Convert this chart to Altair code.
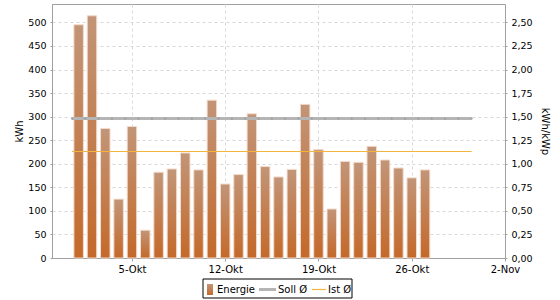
import altair as alt
import pandas as pd

# ---------------- data ----------------
dates = [f"2023-10-{d:02d}" for d in range(1, 28)]
energie = [495, 514, 275, 125, 279, 59, 182, 189, 223, 187, 335, 157, 177, 306,
           194, 172, 188, 326, 230, 104, 205, 203, 237, 208, 191, 170, 187]
soll_avg = 1.48      # kWh/kWp
ist_avg = 1.13       # kWh/kWp
avg_span = ["2023-09-30T12:00:00Z", "2023-10-30T12:00:00Z"]
x_ticks = ["2023-10-05", "2023-10-12", "2023-10-19", "2023-10-26", "2023-11-02"]
x_domain = ["2023-09-29", "2023-11-02"]
month_names = ["Jan", "Feb", "Mär", "Apr", "Mai", "Jun", "Jul", "Aug", "Sep", "Okt", "Nov", "Dez"]
y_left_ticks = [0, 50, 100, 150, 200, 250, 300, 350, 400, 450, 500]
y_right_ticks = [0, 0.25, 0.5, 0.75, 1.0, 1.25, 1.5, 1.75, 2.0, 2.25, 2.5]
y_left_max = 539
y_right_max = 2.695
legend_labels = ["Energie", "Soll Ø", "Ist Ø"]

FONT = "DejaVu Sans"
GRID = "#d9d9d9"
AXC = "#a0a0a0"
SOLL_C = "#b5b5b5"
IST_C = "#f2b640"


def ms(s):
    return int(pd.Timestamp(s, tz="UTC").timestamp() * 1000)


bars_df = pd.DataFrame({"t": dates, "v": energie})
soll_df = pd.DataFrame({"t": avg_span, "v": [soll_avg, soll_avg]})
ist_df = pd.DataFrame({"t": avg_span, "v": [ist_avg, ist_avg]})
dot_days = [d.strftime("%Y-%m-%dT%H:%M:%SZ") for d in
            pd.date_range(avg_span[0].rstrip("Z"), avg_span[1].rstrip("Z"), freq="D")]
dots_df = pd.DataFrame({"t": dot_days, "v": [soll_avg] * len(dot_days)})

month_js = "[" + ",".join(f"'{m}'" for m in month_names) + "]"

x_axis = alt.Axis(
    values=[ms(s) for s in x_ticks],
    labelExpr="utcdate(datum.value) + '-' + " + month_js + "[utcmonth(datum.value)]",
    grid=True, gridDash=[3, 3], gridColor=GRID,
    domainColor=AXC, tickColor=AXC, tickSize=3,
    labelFontSize=10, labelColor="#000", labelPadding=3, title=None,
    labelFlush=False, labelOverlap=False, labelBound=False,
)
x_enc = alt.X("t:T", scale=alt.Scale(type="utc", domain=[ms(s) for s in x_domain], padding=0),
              axis=x_axis)

grad = alt.Gradient(
    gradient="linear",
    stops=[alt.GradientStop(color="#c29578", offset=0),
           alt.GradientStop(color="#c4692a", offset=1)],
    x1=0, x2=0, y1=0, y2=1,
)

bars = alt.Chart(bars_df).mark_bar(
    width=9.5, color=grad, stroke="#f2dccd", strokeWidth=1
).encode(
    x=x_enc,
    y=alt.Y("v:Q", scale=alt.Scale(domain=[0, y_left_max], nice=False),
            axis=alt.Axis(values=y_left_ticks, grid=True, gridDash=[3, 3], gridColor=GRID,
                          domainColor=AXC, tickColor=AXC, tickSize=2, labelPadding=4,
                          labelFontSize=9.5, labelColor="#000",
                          title="kWh", titleFontSize=10, titleFontWeight="normal",
                          titleAngle=270, titleX=-33, titleY=127,
                          titleAlign="center", titleBaseline="middle")),
)

y_right = alt.Y("v:Q", scale=alt.Scale(domain=[0, y_right_max], nice=False),
                axis=alt.Axis(orient="right", values=y_right_ticks, grid=False,
                              labelExpr="replace(format(datum.value, '.2f'), '.', ',')",
                              domainColor=AXC, tickColor=AXC, tickSize=2, labelPadding=4,
                              labelFontSize=9.5, labelColor="#000",
                              title="kWh/kWp", titleFontSize=10, titleFontWeight="normal",
                              titleAngle=90, titleX=39, titleY=127,
                              titleAlign="center", titleBaseline="middle"))

soll_line = alt.Chart(soll_df).mark_line(color=SOLL_C, strokeWidth=3).encode(x=x_enc, y=y_right)
soll_dots = alt.Chart(dots_df).mark_point(
    shape="square", size=3, filled=True, color="#9a9a9a", opacity=1
).encode(x=x_enc, y=y_right)
ist_line = alt.Chart(ist_df).mark_line(color=IST_C, strokeWidth=1.2).encode(x=x_enc, y=y_right)

lines = alt.layer(soll_line, soll_dots, ist_line)

# ---------------- legend (drawn manually) ----------------
one = pd.DataFrame({"a": [0]})
leg_box = alt.Chart(one).mark_rect(fill="white", stroke="#000", strokeWidth=1).encode(
    x=alt.value(151), x2=alt.value(300), y=alt.value(275), y2=alt.value(294))
leg_sw = alt.Chart(one).mark_rect(color=grad).encode(
    x=alt.value(155), x2=alt.value(161), y=alt.value(280), y2=alt.value(291))
leg_soll = alt.Chart(one).mark_rule(color=SOLL_C, strokeWidth=3).encode(
    x=alt.value(207), x2=alt.value(224), y=alt.value(285.5))
leg_ist = alt.Chart(one).mark_rule(color=IST_C, strokeWidth=1.2).encode(
    x=alt.value(260), x2=alt.value(274), y=alt.value(285.5))
txt_kw = dict(align="left", baseline="middle", fontSize=10, font=FONT, color="#000")
leg_t1 = alt.Chart(one).mark_text(text=legend_labels[0], **txt_kw).encode(
    x=alt.value(165), y=alt.value(286))
leg_t2 = alt.Chart(one).mark_text(text=legend_labels[1], **txt_kw).encode(
    x=alt.value(226), y=alt.value(286))
leg_t3 = alt.Chart(one).mark_text(text=legend_labels[2], **txt_kw).encode(
    x=alt.value(276), y=alt.value(286))

chart = alt.layer(
    bars, lines, leg_box, leg_sw, leg_soll, leg_ist, leg_t1, leg_t2, leg_t3
).resolve_scale(y="independent").properties(
    width=453, height=254,
    autosize=alt.AutoSizeParams(type="none"),
    padding={"left": 52, "top": 4, "right": 55, "bottom": 42},
    background="white",
).configure_view(
    stroke=AXC, strokeWidth=1
).configure_axis(
    labelFont=FONT, titleFont=FONT
)

chart.save("out.html", embed_options={"renderer": "svg", "actions": False})
